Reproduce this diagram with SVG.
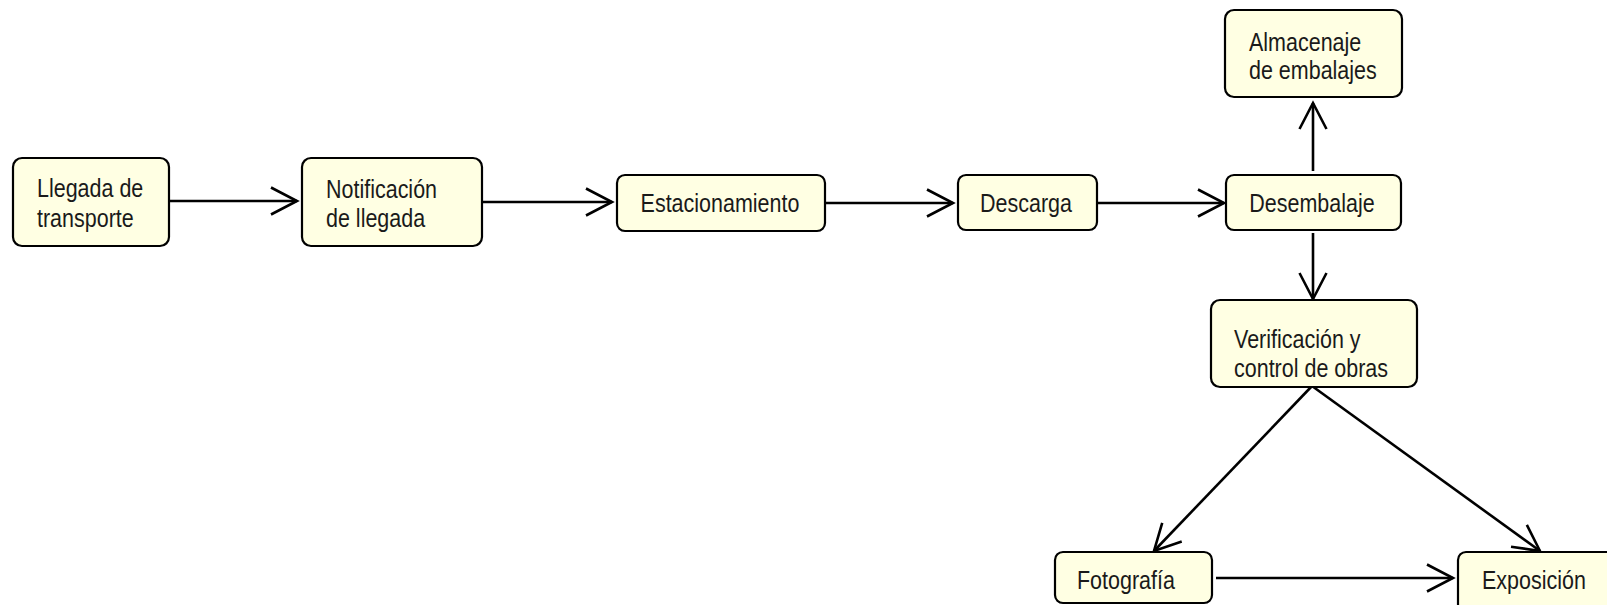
<svg xmlns="http://www.w3.org/2000/svg" width="1607" height="605" viewBox="0 0 1607 605">
<style>
.box{fill:#FFFFE3;stroke:#000;stroke-width:2.2}
.t{font-family:"Liberation Sans",Arial,sans-serif;font-size:25px;fill:#1a1a1a}
.c{text-anchor:middle}
.edge{fill:none;stroke:#000;stroke-width:2.6}
</style>
<defs>
<marker id="arr" markerUnits="userSpaceOnUse" markerWidth="30" markerHeight="30" refX="26" refY="13.5" orient="auto" overflow="visible">
<path d="M0,0 L26,13.5 L0,27" fill="none" stroke="#000" stroke-width="2.6"/>
</marker>
</defs>
<rect width="1607" height="605" fill="#fff"/>
<g id="connectors">
<line class="edge" x1="169" y1="201" x2="297" y2="201" marker-end="url(#arr)"/>
<line class="edge" x1="482" y1="202" x2="612" y2="202" marker-end="url(#arr)"/>
<line class="edge" x1="825" y1="203" x2="953" y2="203" marker-end="url(#arr)"/>
<line class="edge" x1="1097" y1="203" x2="1224" y2="203" marker-end="url(#arr)"/>
<line class="edge" x1="1313" y1="171" x2="1313" y2="103" marker-end="url(#arr)"/>
<line class="edge" x1="1313" y1="233" x2="1313" y2="299" marker-end="url(#arr)"/>
<line class="edge" x1="1312" y1="386" x2="1154" y2="551" marker-end="url(#arr)"/>
<line class="edge" x1="1312" y1="386" x2="1540" y2="551" marker-end="url(#arr)"/>
<line class="edge" x1="1216" y1="578" x2="1453" y2="578" marker-end="url(#arr)"/>
</g>
<g id="n1"><rect class="box" x="13" y="158" width="156" height="88" rx="9"/>
<text class="t" transform="matrix(0.86,0,0,1,37,197)">Llegada de</text><text class="t" transform="matrix(0.86,0,0,1,37,227)">transporte</text></g>
<g id="n2"><rect class="box" x="302" y="158" width="180" height="88" rx="9"/>
<text class="t" transform="matrix(0.86,0,0,1,326,198)">Notificación</text><text class="t" transform="matrix(0.86,0,0,1,326,227)">de llegada</text></g>
<g id="n3"><rect class="box" x="617" y="175" width="208" height="56" rx="8"/>
<text class="t c" transform="matrix(0.86,0,0,1,720,212)">Estacionamiento</text></g>
<g id="n4"><rect class="box" x="958" y="175" width="139" height="55" rx="8"/>
<text class="t c" transform="matrix(0.86,0,0,1,1026,212)">Descarga</text></g>
<g id="n5"><rect class="box" x="1226" y="175" width="175" height="55" rx="8"/>
<text class="t c" transform="matrix(0.86,0,0,1,1312,212)">Desembalaje</text></g>
<g id="n6"><rect class="box" x="1225" y="10" width="177" height="87" rx="9"/>
<text class="t" transform="matrix(0.86,0,0,1,1249,51)">Almacenaje</text><text class="t" transform="matrix(0.86,0,0,1,1249,79)">de embalajes</text></g>
<g id="n7"><rect class="box" x="1211" y="300" width="206" height="87" rx="9"/>
<text class="t" transform="matrix(0.86,0,0,1,1234,348)">Verificación y</text><text class="t" transform="matrix(0.86,0,0,1,1234,377)">control de obras</text></g>
<g id="n8"><rect class="box" x="1055" y="552" width="157" height="51" rx="8"/>
<text class="t" transform="matrix(0.86,0,0,1,1077,589)">Fotografía</text></g>
<g id="n9"><rect class="box" x="1458" y="552" width="170" height="60" rx="8"/>
<text class="t" transform="matrix(0.86,0,0,1,1482,589)">Exposición</text></g>
</svg>
